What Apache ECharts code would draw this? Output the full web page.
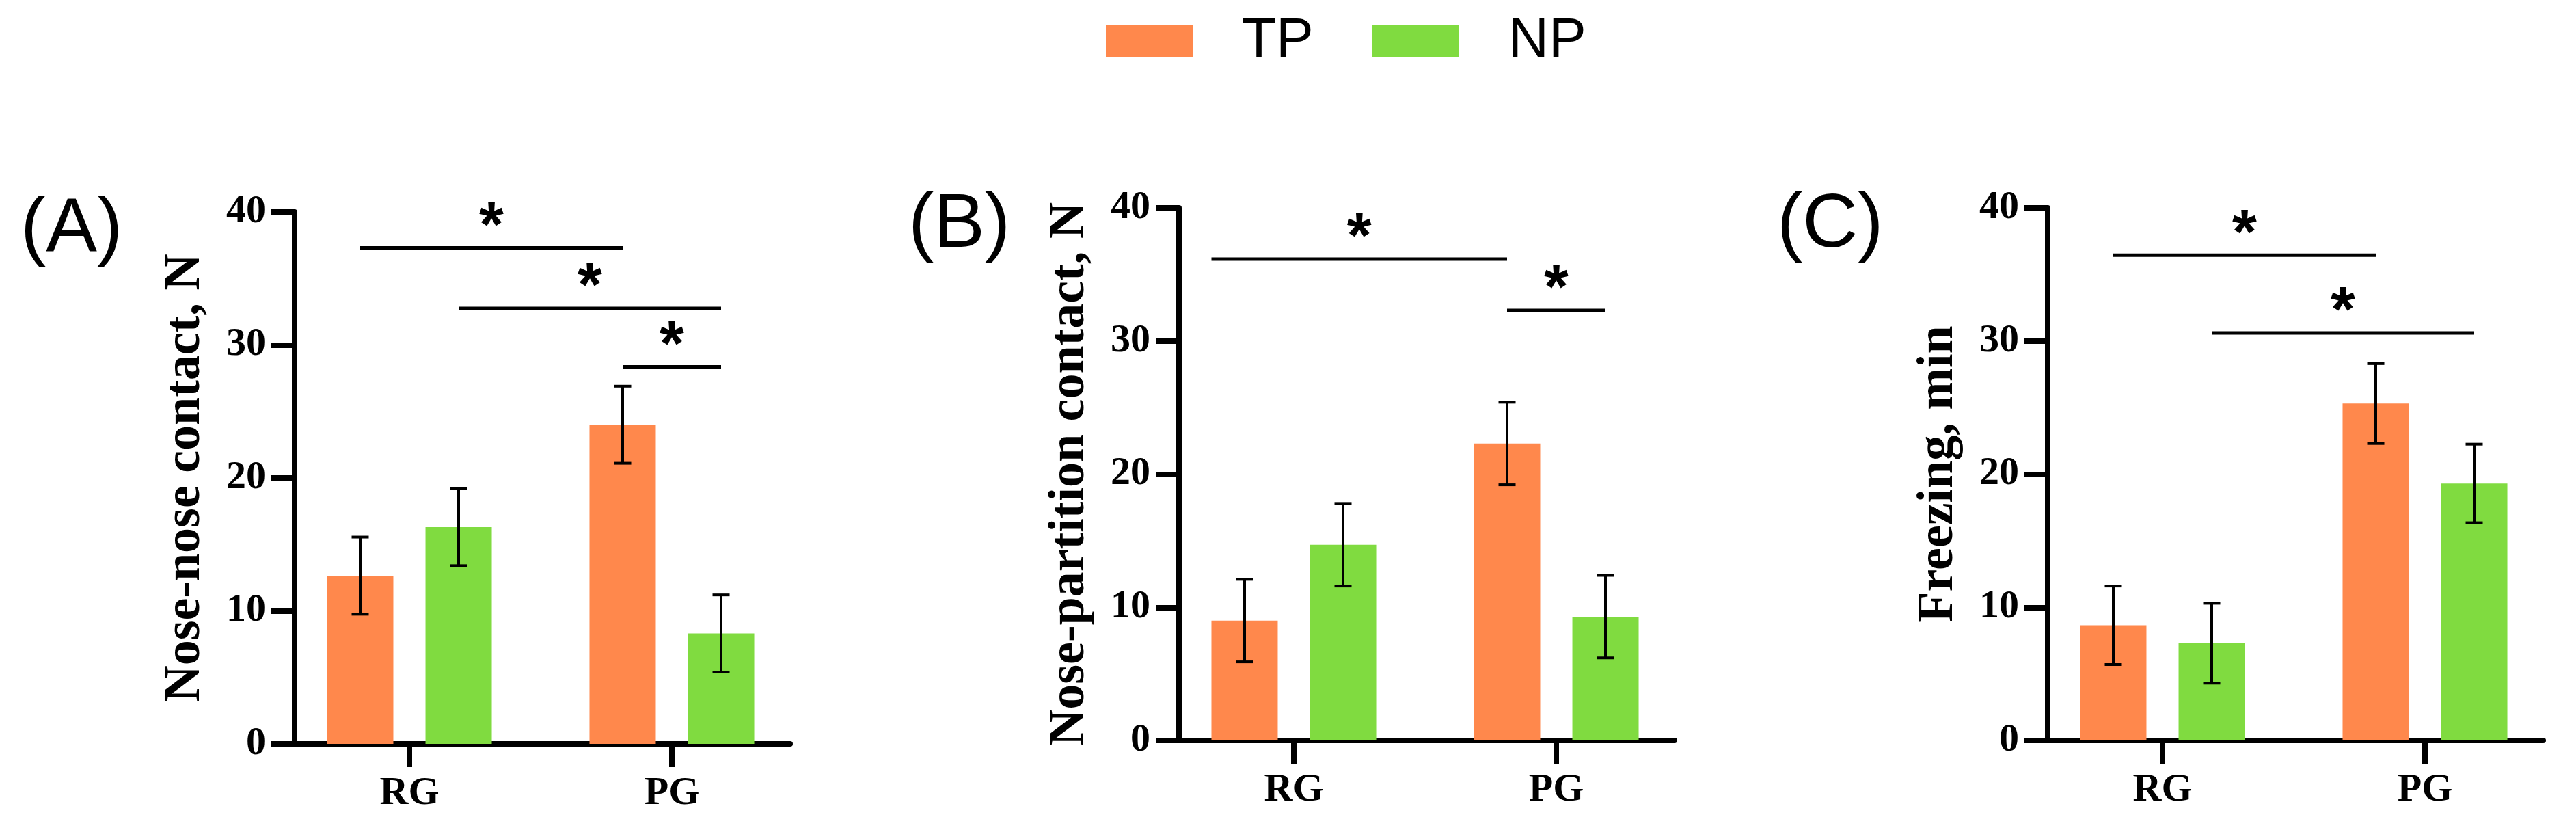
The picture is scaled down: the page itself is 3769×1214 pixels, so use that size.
<!DOCTYPE html>
<html>
<head>
<meta charset="utf-8">
<script src="https://cdn.jsdelivr.net/npm/echarts@6/dist/echarts.min.js"></script>
<style>
  html, body { margin: 0; padding: 0; background: #fff; }
  #chart { width: 3769px; height: 1214px; }
</style>
</head>
<body>
<div id="chart"></div>
<script>
// groups on the x axis and the two series
const groups = ['RG', 'PG']
const seriesNames = ['TP', 'NP']
const yTicks = [0, 10, 20, 30, 40]

// (A) nose-nose contact, mean and error
const noseTP = [12.65, 24.0]
const noseTPErr = [2.9, 2.9]
const noseNP = [16.3, 8.3]
const noseNPErr = [2.9, 2.9]

// (B) nose-partition contact
const partTP = [9.0, 22.3]
const partTPErr = [3.1, 3.1]
const partNP = [14.7, 9.3]
const partNPErr = [3.1, 3.1]

// (C) freezing, min
const frzTP = [8.65, 25.3]
const frzTPErr = [2.95, 3.0]
const frzNP = [7.3, 19.3]
const frzNPErr = [3.0, 2.95]

// significance brackets: [group from, series from, group to, series to, height, start at bar edge]
const noseSig = [[0, 0, 1, 0, 37.3, 0], [0, 1, 1, 1, 32.75, 0], [1, 0, 1, 1, 28.35, 0]]
const partSig = [[0, 0, 1, 0, 36.15, 1], [1, 0, 1, 1, 32.3, 0]]
const frzSig = [[0, 0, 1, 0, 36.45, 0], [0, 1, 1, 1, 30.6, 0]]

const panelTitles = ['Nose-nose contact, N', 'Nose-partition contact, N', 'Freezing, min']
const panelTags = ['(A)', '(B)', '(C)']

// styling
const colors = ['#FF884C', '#80DB40']
const BAR_W = 97
const BAR_GAP = 47
const serif = 'Liberation Serif'
const sans = 'Liberation Sans'
const grids = [
  { left: 431, top: 310, width: 725, height: 778 },
  { left: 1725, top: 304, width: 725, height: 779 },
  { left: 2996, top: 304, width: 725, height: 779 }
]

const panels = [
  { means: [noseTP, noseNP], errs: [noseTPErr, noseNPErr], sig: noseSig },
  { means: [partTP, partNP], errs: [partTPErr, partNPErr], sig: partSig },
  { means: [frzTP, frzNP], errs: [frzTPErr, frzNPErr], sig: frzSig }
]

const offset = (s) => (s - 0.5) * (BAR_W + BAR_GAP)

let chart = echarts.init(document.getElementById('chart'), null, { renderer: 'canvas' })

let xAxes = []
let yAxes = []
let series = []
let graphics = []

panels.forEach((p, i) => {
  xAxes.push({
    type: 'value',
    gridIndex: i,
    min: 0.5625,
    max: 2.4505,
    splitLine: { show: false },
    axisLine: { show: true, onZero: false, lineStyle: { color: '#000', width: 8 } },
    axisTick: { show: true, length: 34, lineStyle: { color: '#000', width: 8 }, customValues: [1, 2] },
    axisLabel: {
      customValues: [1, 2],
      formatter: (v) => groups[Math.round(v) - 1] || '',
      margin: 44,
      color: '#000',
      fontFamily: serif,
      fontWeight: 'bold',
      fontSize: 58
    }
  })
  yAxes.push({
    type: 'value',
    gridIndex: i,
    min: yTicks[0],
    max: yTicks[yTicks.length - 1],
    interval: 10,
    name: panelTitles[i],
    nameLocation: 'middle',
    nameGap: 122,
    nameTextStyle: { color: '#000', fontFamily: serif, fontWeight: 'bold', fontSize: 74 },
    splitLine: { show: false },
    axisLine: { show: true, lineStyle: { color: '#000', width: 8 } },
    axisTick: { show: true, length: 34, lineStyle: { color: '#000', width: 8 } },
    axisLabel: { margin: 42, color: '#000', fontFamily: serif, fontWeight: 'bold', fontSize: 58 }
  })

  seriesNames.forEach((name, s) => {
    series.push({
      name: name,
      type: 'bar',
      xAxisIndex: i,
      yAxisIndex: i,
      barWidth: BAR_W,
      barGap: (BAR_GAP / BAR_W * 100).toFixed(1) + '%',
      itemStyle: { color: colors[s] },
      data: p.means[s].map((v, g) => [g + 1, v])
    })
  })

  // error bars
  let errData = []
  seriesNames.forEach((name, s) => {
    p.means[s].forEach((v, g) => errData.push([g + 1, v, p.errs[s][g], s]))
  })
  series.push({
    type: 'custom',
    xAxisIndex: i,
    yAxisIndex: i,
    z: 5,
    clip: false,
    encode: { x: 0, y: 1 },
    data: errData,
    renderItem: (params, api) => {
      const m = api.value(1)
      const e = api.value(2)
      const top = api.coord([api.value(0), m + e])
      const bot = api.coord([api.value(0), m - e])
      const cx = top[0] + offset(api.value(3))
      const st = { stroke: '#000', lineWidth: 4 }
      return {
        type: 'group',
        children: [
          { type: 'line', shape: { x1: cx, y1: top[1], x2: cx, y2: bot[1] }, style: st },
          { type: 'line', shape: { x1: cx - 12.5, y1: top[1], x2: cx + 12.5, y2: top[1] }, style: st },
          { type: 'line', shape: { x1: cx - 12.5, y1: bot[1], x2: cx + 12.5, y2: bot[1] }, style: st }
        ]
      }
    }
  })

  // significance brackets
  series.push({
    type: 'custom',
    xAxisIndex: i,
    yAxisIndex: i,
    z: 5,
    clip: false,
    encode: { x: [0, 2], y: 4 },
    data: p.sig.map(b => [b[0] + 1, b[1], b[2] + 1, b[3], b[4], b[5]]),
    renderItem: (params, api) => {
      const y = api.value(4)
      const a = api.coord([api.value(0), y])
      const b = api.coord([api.value(2), y])
      const x1 = a[0] + offset(api.value(1)) - (api.value(5) ? BAR_W / 2 : 0)
      const x2 = b[0] + offset(api.value(3))
      return {
        type: 'group',
        children: [
          { type: 'line', shape: { x1: x1, y1: a[1], x2: x2, y2: a[1] }, style: { stroke: '#000', lineWidth: 5 } },
          {
            type: 'text',
            style: {
              text: '*', x: (x1 + x2) / 2, y: a[1] - 28,
              align: 'center', verticalAlign: 'middle',
              fontFamily: sans, fontWeight: 'bold', fontSize: 92, fill: '#000'
            }
          }
        ]
      }
    }
  })

  graphics.push({
    type: 'text',
    left: i === 0 ? 30 : grids[i].left - 396,
    top: grids[i].top - 30,
    style: { text: panelTags[i], fontFamily: sans, fontSize: 112, fill: '#000' }
  })
})

let opts = {
  animation: false,
  backgroundColor: '#fff',
  grid: grids,
  xAxis: xAxes,
  yAxis: yAxes,
  legend: {
    data: seriesNames,
    left: 1613,
    top: 14,
    icon: 'rect',
    itemWidth: 127,
    itemHeight: 46,
    itemGap: 86,
    textStyle: { fontFamily: sans, fontSize: 82, color: '#000', padding: [0, 0, 0, 67] }
  },
  graphic: graphics,
  series: series
}
chart.setOption(opts)
</script>
</body>
</html>
